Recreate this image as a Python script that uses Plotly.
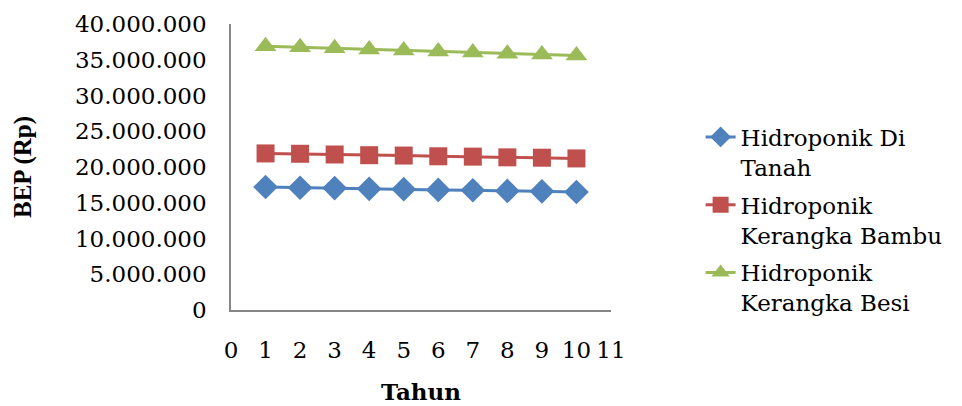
import plotly.graph_objects as go

tahun = [1, 2, 3, 4, 5, 6, 7, 8, 9, 10]
di_tanah = [17200000, 17100000, 17050000, 16950000, 16900000, 16800000, 16750000, 16650000, 16600000, 16500000]
kerangka_bambu = [21900000, 21850000, 21750000, 21650000, 21600000, 21500000, 21450000, 21350000, 21300000, 21200000]
kerangka_besi = [36900000, 36750000, 36600000, 36450000, 36300000, 36150000, 36000000, 35850000, 35750000, 35600000]

series_names = ["Hidroponik Di<br>Tanah", "Hidroponik<br>Kerangka Bambu", "Hidroponik<br>Kerangka Besi"]
y_tickvals = [0, 5000000, 10000000, 15000000, 20000000, 25000000, 30000000, 35000000, 40000000]
y_ticktext = ["0", "5.000.000", "10.000.000", "15.000.000", "20.000.000", "25.000.000",
              "30.000.000", "35.000.000", "40.000.000"]
x_tickvals = [0, 1, 2, 3, 4, 5, 6, 7, 8, 9, 10, 11]

FONT = "DejaVu Serif"
TITLE_FONT = "Liberation Serif"

fig = go.Figure()
styles = [
    (di_tanah, "#4F81BD", "diamond", 19),
    (kerangka_bambu, "#C0504D", "square", 18),
    (kerangka_besi, "#9BBB59", "triangle-up", 19),
]
for i, ((vals, color, sym, size), name) in enumerate(zip(styles, series_names)):
    fig.add_trace(go.Scatter(
        x=tahun, y=vals, name=name, mode="lines+markers", legendgroup=f"g{i}",
        line=dict(color=color, width=3),
        marker=dict(symbol=sym, size=size, color=color),
    ))

# page body has an 8px default margin, so the figure is 8px smaller and shifted
fig.update_layout(
    width=954, height=398,
    margin=dict(l=223, r=351, t=16, b=96),
    paper_bgcolor="white", plot_bgcolor="white",
    font=dict(family=FONT, size=23, color="black"),
    showlegend=True,
    legend=dict(
        xref="container", yref="container", x=0.726, y=0.73,
        xanchor="left", yanchor="top", tracegroupgap=5, maxheight=400,
        font=dict(family=FONT, size=23, color="black"),
        valign="top", bgcolor="rgba(0,0,0,0)",
    ),
    xaxis=dict(
        range=[0, 11], tickvals=x_tickvals, showgrid=False, zeroline=False,
        showline=True, linecolor="#868686", linewidth=1.5, ticks="",
        ticklabelstandoff=19, automargin=False,
        title=dict(text="<b>Tahun</b>", standoff=22, font=dict(family=FONT, size=23)),
    ),
    yaxis=dict(
        range=[0, 40000000], tickvals=y_tickvals, ticktext=y_ticktext,
        showgrid=False, zeroline=False, automargin=False,
        showline=True, linecolor="#868686", linewidth=1.5, ticks="",
        ticklabelstandoff=18,
        title=dict(text="<b>BEP (Rp)</b>", standoff=36, font=dict(family=TITLE_FONT, size=25)),
    ),
)

fig.write_html("out.html")
